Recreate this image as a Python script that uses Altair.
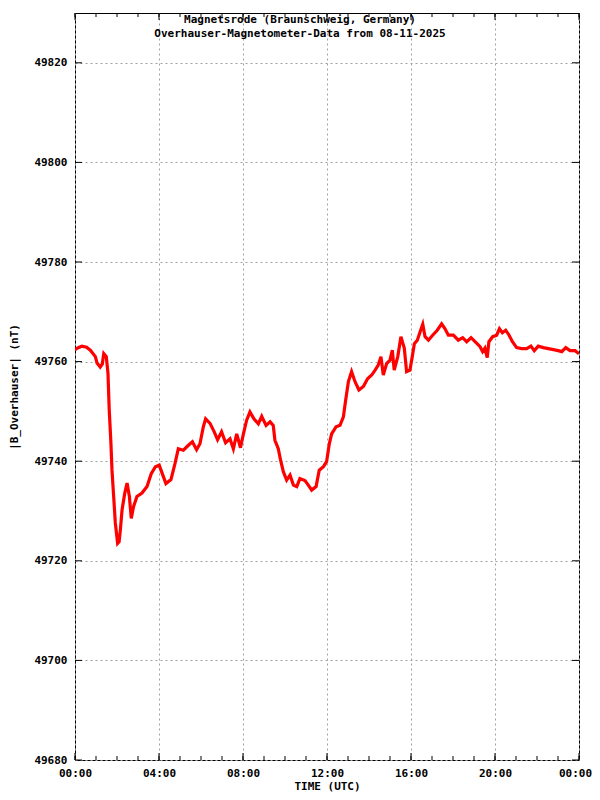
import altair as alt
import pandas as pd

# ---- data ----
hours = [0.00, 0.15, 0.33, 0.55, 0.73, 0.97, 1.05, 1.20, 1.30, 1.37, 1.49, 1.57, 1.63, 1.71, 1.76,
         1.84, 1.92, 2.03, 2.10, 2.16, 2.24, 2.37, 2.48, 2.59, 2.68, 2.79, 2.95, 3.19, 3.43, 3.63,
         3.83, 4.01, 4.20, 4.33, 4.57, 4.76, 4.92, 5.16, 5.40, 5.59, 5.79, 5.95, 6.11, 6.22, 6.43,
         6.63, 6.79, 6.98, 7.17, 7.38, 7.54, 7.70, 7.88, 8.02, 8.17, 8.33, 8.52, 8.73, 8.89, 9.10,
         9.29, 9.44, 9.52, 9.68, 9.79, 9.92, 10.08, 10.24, 10.40, 10.56, 10.71, 10.95, 11.11, 11.27,
         11.48, 11.63, 11.83, 11.98, 12.11, 12.22, 12.43, 12.62, 12.78, 12.89, 13.02, 13.17, 13.33,
         13.52, 13.73, 13.94, 14.13, 14.29, 14.44, 14.57, 14.68, 14.84, 15.00, 15.11, 15.20, 15.37,
         15.52, 15.68, 15.79, 15.95, 16.06, 16.16, 16.30, 16.46, 16.56, 16.67, 16.83, 17.03, 17.25,
         17.46, 17.62, 17.78, 18.02, 18.25, 18.46, 18.65, 18.86, 19.05, 19.29, 19.41, 19.52, 19.63,
         19.71, 19.89, 20.08, 20.21, 20.35, 20.51, 20.67, 20.83, 21.03, 21.27, 21.51, 21.71, 21.87,
         22.06, 22.30, 22.54, 22.78, 23.01, 23.18, 23.37, 23.57, 23.81, 24.00]
values = [49762.4, 49762.8, 49763.1, 49762.9, 49762.3, 49761.0, 49759.7, 49758.9, 49759.5, 49761.6,
          49761.0, 49757.7, 49750.3, 49743.7, 49738.3, 49733.0, 49727.6, 49723.5, 49723.8, 49726.2,
          49730.2, 49733.6, 49735.6, 49732.9, 49728.5, 49730.9, 49732.9, 49733.6, 49734.9, 49737.5,
          49738.9, 49739.2, 49737.0, 49735.5, 49736.3, 49739.5, 49742.5, 49742.2, 49743.2, 49743.9,
          49742.3, 49743.5, 49746.9, 49748.5, 49747.6, 49745.9, 49744.3, 49745.9, 49743.7, 49744.5,
          49742.5, 49745.5, 49742.7, 49745.5, 49748.2, 49749.9, 49748.5, 49747.5, 49749.0, 49747.2,
          49747.9, 49747.2, 49744.2, 49742.5, 49740.2, 49737.9, 49736.2, 49737.2, 49735.2, 49734.9,
          49736.5, 49736.1, 49735.2, 49734.2, 49734.9, 49738.2, 49738.9, 49739.9, 49743.5, 49745.5,
          49746.9, 49747.2, 49748.9, 49752.3, 49756.0, 49758.0, 49756.0, 49754.3, 49755.0, 49756.6,
          49757.3, 49758.3, 49759.3, 49761.0, 49757.3, 49759.6, 49760.3, 49762.3, 49758.3, 49761.0,
          49765.0, 49762.7, 49758.0, 49758.3, 49761.0, 49763.6, 49764.3, 49766.3, 49767.5, 49765.0,
          49764.3, 49765.3, 49766.3, 49767.6, 49766.6, 49765.3, 49765.3, 49764.3, 49764.8, 49764.0,
          49764.8, 49764.0, 49763.0, 49762.0, 49762.7, 49760.8, 49764.0, 49765.0, 49765.3, 49766.6,
          49765.8, 49766.3, 49765.3, 49764.0, 49762.8, 49762.6, 49762.6, 49763.1, 49762.2, 49763.1,
          49762.8, 49762.6, 49762.4, 49762.2, 49762.0, 49762.8, 49762.2, 49762.2, 49761.6]

title_lines = ["Magnetsrode (Braunschweig, Germany)",
               "Overhauser-Magnetometer-Data from 08-11-2025"]
x_title = "TIME (UTC)"
y_title = "|B_Overhauser| (nT)"
x_major = [0, 4, 8, 12, 16, 20, 24]
x_minor = list(range(0, 25))
y_major = [49680, 49700, 49720, 49740, 49760, 49780, 49800, 49820]
y_domain = [49680, 49830]
x_domain = [0, 24]

FONT = "DejaVu Sans Mono"
W, H = 504, 747
GRID = "#a0a0a0"

df = pd.DataFrame({"h": hours, "v": values})
df_xminor = pd.DataFrame({"h": x_minor})
df_xmajor = pd.DataFrame({"h": x_major})
df_ymajor = pd.DataFrame({"v": y_major})
df_title = pd.DataFrame({"k": [0]})

xscale = alt.Scale(domain=x_domain, nice=False, zero=False)
yscale = alt.Scale(domain=y_domain, nice=False, zero=False)

x_axis = alt.Axis(
    values=x_major, grid=True, gridDash=[2, 3], gridColor=GRID, gridWidth=1,
    ticks=False, tickSize=0, domain=False,
    labelExpr="(datum.value % 24 < 10 ? '0' : '') + (datum.value % 24) + ':00'",
    labelFont=FONT, labelFontSize=11, labelFontWeight="bold", labelColor="black",
    labelPadding=13, labelBaseline="middle", labelFlush=False, labelOverlap=False,
    labelOffset={"condition": {"test": "datum.value == 24", "value": -4}, "value": 0},
    title=x_title, titleFont=FONT, titleFontSize=11, titleFontWeight="bold",
    titleColor="black", titleY=26, titleBaseline="middle",
)
y_axis = alt.Axis(
    values=y_major, grid=True, gridDash=[2, 3], gridColor=GRID, gridWidth=1,
    ticks=False, tickSize=0, domain=False, format="d",
    labelFont=FONT, labelFontSize=11, labelFontWeight="bold", labelColor="black",
    labelPadding=8, labelAlign="right", labelBaseline="middle", labelOverlap=False,
    title=y_title, titleFont=FONT, titleFontSize=11, titleFontWeight="bold",
    titleColor="black", titleAngle=270, titleX=-61, titleY=373.5,
    titleAlign="center", titleBaseline="middle",
)

X = alt.X("h:Q", scale=xscale, axis=x_axis)
Y = alt.Y("v:Q", scale=yscale, axis=y_axis)

line = alt.Chart(df).mark_line(color="#ff0000", strokeWidth=3.2, clip=True).encode(x=X, y=Y)

bot_minor = alt.Chart(df_xminor).mark_rule(color="black", strokeWidth=1).encode(
    x=X, y=alt.value(H), y2=alt.value(H - 4))
bot_major = alt.Chart(df_xmajor).mark_rule(color="black", strokeWidth=1).encode(
    x=X, y=alt.value(H), y2=alt.value(H - 7))
top_minor = alt.Chart(df_xminor).mark_rule(color="black", strokeWidth=1).encode(
    x=X, y=alt.value(0), y2=alt.value(4))
top_major = alt.Chart(df_xmajor).mark_rule(color="black", strokeWidth=1).encode(
    x=X, y=alt.value(0), y2=alt.value(7))
left_major = alt.Chart(df_ymajor).mark_rule(color="black", strokeWidth=1).encode(
    y=Y, x=alt.value(0), x2=alt.value(7))
right_major = alt.Chart(df_ymajor).mark_rule(color="black", strokeWidth=1).encode(
    y=Y, x=alt.value(W), x2=alt.value(W - 7))

title = alt.Chart(df_title).mark_text(
    font=FONT, fontSize=11, fontWeight="bold", color="black",
    align="center", baseline="middle", lineHeight=14,
).encode(x=alt.value(225), y=alt.value(7), text=alt.value(title_lines))

chart = alt.layer(
    line, bot_minor, bot_major, top_minor, top_major, left_major, right_major, title
).properties(
    width=W, height=H,
    autosize=alt.AutoSizeParams(type="none"),
    padding={"left": 67, "top": 5, "right": 13, "bottom": 32},
    background="white",
).configure_view(stroke="black", strokeWidth=1)

chart.save("out.html", embed_options={"renderer": "svg", "actions": False})
